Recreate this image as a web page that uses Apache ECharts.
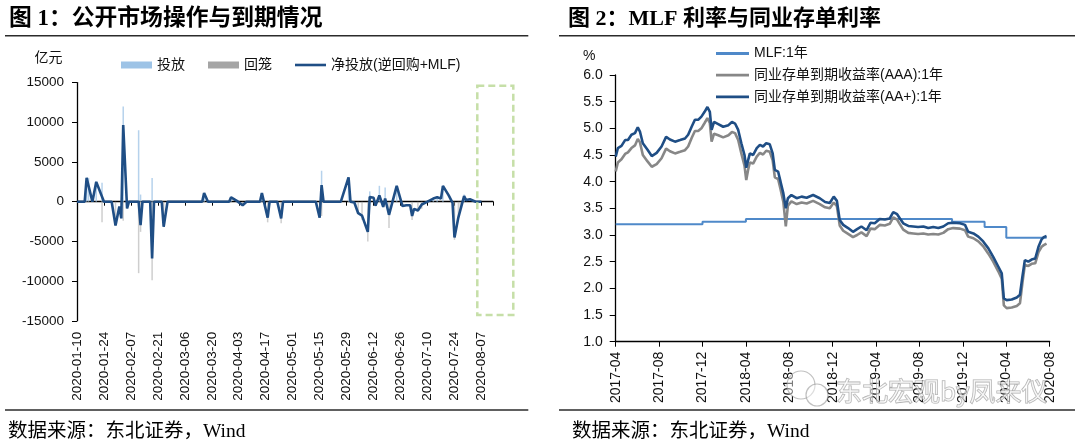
<!DOCTYPE html>
<html>
<head>
<meta charset="utf-8">
<script src="https://cdn.jsdelivr.net/npm/echarts@6/dist/echarts.min.js"></script>
<style>html,body{margin:0;padding:0;background:#fff}#c{width:1080px;height:441px}</style>
</head>
<body>
<div id="c"></div>
<script>
// ---------------- Figure 1 data (亿元) ----------------
const leftTickLabels = ['2020-01-10','2020-01-24','2020-02-07','2020-02-21','2020-03-06','2020-03-20','2020-04-03','2020-04-17','2020-05-01','2020-05-15','2020-05-29','2020-06-12','2020-06-26','2020-07-10','2020-07-24','2020-08-07'];
const leftYTicks = [-15000, 15000, 5000];

const netDates = ['2020-01-10','2020-01-14','2020-01-15','2020-01-16','2020-01-18','2020-01-20','2020-01-24','2020-01-28','2020-01-30','2020-02-01','2020-02-02','2020-02-03','2020-02-05','2020-02-06','2020-02-11','2020-02-12','2020-02-13','2020-02-17','2020-02-18','2020-02-19','2020-02-23','2020-02-24','2020-02-26','2020-03-15','2020-03-16','2020-03-18','2020-03-29','2020-03-30','2020-04-02','2020-04-05','2020-04-07','2020-04-14','2020-04-15','2020-04-18','2020-04-19','2020-04-23','2020-04-25','2020-04-26','2020-05-13','2020-05-15','2020-05-16','2020-05-17','2020-05-26','2020-05-30','2020-05-31','2020-06-02','2020-06-04','2020-06-06','2020-06-09','2020-06-10','2020-06-12','2020-06-13','2020-06-15','2020-06-17','2020-06-18','2020-06-20','2020-06-24','2020-06-25','2020-06-27','2020-06-29','2020-07-01','2020-07-02','2020-07-03','2020-07-05','2020-07-07','2020-07-10','2020-07-13','2020-07-15','2020-07-17','2020-07-18','2020-07-21','2020-07-23','2020-07-24','2020-07-26','2020-07-27','2020-07-29','2020-07-30','2020-08-01','2020-08-04','2020-08-05','2020-08-07'];
const netValues = [0,0,3000,3000,0,2500,0,0,-3000,-600,-2100,9650,-850,0,0,-2950,0,0,-7150,0,0,-3150,0,0,1100,0,0,550,100,-450,0,0,1100,-2000,0,0,-2100,0,0,-2000,2100,0,0,3070,0,-100,-1450,-1750,-3800,600,500,-500,800,-650,400,-1650,2000,1800,-550,-450,-450,-1800,-900,-1100,-350,0,400,550,400,2000,800,-150,-4500,-2000,-1100,700,200,300,0,-150,0];

const injDates = ['2020-01-15','2020-01-16','2020-01-20','2020-01-23','2020-02-03','2020-02-11','2020-02-12','2020-02-18','2020-03-16','2020-03-30','2020-04-15','2020-05-16','2020-05-30','2020-06-10','2020-06-15','2020-06-18','2020-06-24','2020-07-13','2020-07-15','2020-07-18','2020-07-29'];
const injValues = [3000,3000,2500,2400,12000,9000,900,3000,1100,600,1100,3900,3100,1300,2000,1800,2000,500,600,2000,900];

const matDates = ['2020-01-23','2020-01-30','2020-02-02','2020-02-03','2020-02-05','2020-02-11','2020-02-12','2020-02-18','2020-02-24','2020-04-05','2020-04-18','2020-04-25','2020-05-15','2020-05-16','2020-06-04','2020-06-06','2020-06-09','2020-06-13','2020-06-17','2020-06-20','2020-06-27','2020-07-02','2020-07-05','2020-07-07','2020-07-24','2020-07-26','2020-07-27'];
const matValues = [-2600,-3000,-2100,-2400,-900,-9000,-3800,-9900,-3200,-450,-2600,-2700,-2000,-1800,-1500,-2300,-5000,-600,-700,-3300,-600,-2300,-1200,-900,-4800,-2000,-1100];

// ---------------- Figure 2 data (%) ----------------
const rightTickLabels = ['2017-04','2017-08','2017-12','2018-04','2018-08','2018-12','2019-04','2019-08','2019-12','2020-04','2020-08'];

const rateDates = ['2017-04-01','2017-04-07','2017-04-17','2017-04-27','2017-05-05','2017-05-15','2017-05-25','2017-06-02','2017-06-08','2017-06-16','2017-06-29','2017-07-11','2017-07-25','2017-08-08','2017-08-21','2017-09-01','2017-09-15','2017-09-29','2017-10-13','2017-10-22','2017-11-01','2017-11-10','2017-11-19','2017-11-28','2017-12-07','2017-12-15','2017-12-22','2017-12-27','2018-01-03','2018-01-15','2018-01-29','2018-02-12','2018-02-21','2018-03-01','2018-03-10','2018-03-19','2018-03-28','2018-04-02','2018-04-07','2018-04-12','2018-04-21','2018-05-01','2018-05-10','2018-05-19','2018-05-28','2018-06-07','2018-06-15','2018-06-21','2018-06-30','2018-07-07','2018-07-15','2018-07-22','2018-07-28','2018-08-07','2018-08-22','2018-09-05','2018-09-19','2018-10-07','2018-10-26','2018-11-10','2018-11-23','2018-12-04','2018-12-13','2018-12-21','2018-12-31','2019-01-14','2019-01-28','2019-02-08','2019-02-19','2019-03-05','2019-03-16','2019-03-28','2019-04-11','2019-04-25','2019-05-09','2019-05-19','2019-05-30','2019-06-07','2019-06-16','2019-06-30','2019-07-14','2019-07-28','2019-08-12','2019-08-26','2019-09-09','2019-09-23','2019-10-07','2019-10-21','2019-11-04','2019-11-23','2019-12-07','2019-12-16','2019-12-31','2020-01-14','2020-01-28','2020-02-11','2020-02-24','2020-03-09','2020-03-19','2020-03-25','2020-04-02','2020-04-16','2020-04-30','2020-05-09','2020-05-16','2020-05-23','2020-06-02','2020-06-11','2020-06-21','2020-06-30','2020-07-09','2020-07-15','2020-07-23'];
const aaPlus = [4.47,4.63,4.67,4.78,4.78,4.88,4.91,5.02,4.94,4.72,4.60,4.48,4.54,4.66,4.84,4.79,4.75,4.78,4.81,4.88,5.03,5.16,5.16,5.22,5.31,5.40,5.31,4.97,5.12,5.08,5.03,5.06,5.12,5.09,4.97,4.72,4.50,4.26,4.40,4.53,4.50,4.63,4.69,4.66,4.72,4.70,4.53,4.22,4.19,4.00,3.78,3.50,3.69,3.75,3.69,3.72,3.70,3.75,3.69,3.62,3.60,3.72,3.64,3.28,3.19,3.13,3.06,3.11,3.16,3.09,3.23,3.22,3.30,3.29,3.31,3.43,3.39,3.31,3.22,3.17,3.16,3.15,3.16,3.13,3.15,3.13,3.16,3.22,3.23,3.22,3.19,3.06,3.03,2.97,2.88,2.75,2.59,2.41,2.28,1.81,1.78,1.79,1.83,1.88,2.22,2.53,2.50,2.54,2.56,2.78,2.92,2.96,2.98];
const aaa = [4.19,4.36,4.42,4.52,4.55,4.63,4.68,4.80,4.74,4.50,4.38,4.28,4.33,4.44,4.62,4.57,4.53,4.56,4.59,4.66,4.82,4.95,4.95,5.00,5.10,5.19,5.10,4.75,4.90,4.87,4.83,4.87,4.93,4.91,4.78,4.53,4.30,4.03,4.22,4.36,4.34,4.47,4.54,4.51,4.58,4.56,4.40,4.08,4.05,3.86,3.62,3.16,3.55,3.63,3.58,3.61,3.59,3.64,3.58,3.52,3.50,3.61,3.54,3.18,3.08,3.02,2.96,3.00,3.05,2.98,3.12,3.11,3.19,3.18,3.21,3.33,3.29,3.20,3.10,3.04,3.03,3.02,3.03,3.01,3.02,3.01,3.04,3.11,3.13,3.12,3.09,2.97,2.94,2.88,2.79,2.65,2.50,2.32,2.18,1.68,1.63,1.64,1.67,1.72,2.10,2.44,2.42,2.46,2.47,2.68,2.78,2.81,2.84];

const mlfDates = ['2017-04-01','2017-12-01','2018-04-01','2019-11-01','2020-02-01','2020-04-01','2020-07-23'];
const mlfValues = [3.20,3.25,3.30,3.25,3.15,2.95,2.95];

// ---------------- helpers ----------------
function parseD(s){ return s.split('-').map(Number); }
function dayOf(s){ const p = parseD(s); return Math.round((Date.UTC(p[0],p[1]-1,p[2]) - Date.UTC(2020,0,10)) / 864e5); }
function monthOf(s){ const p = parseD(s); const dim = new Date(Date.UTC(p[0], p[1], 0)).getUTCDate(); return (p[0]-2017)*12 + (p[1]-4) + (p[2]-1)/dim; }
const zipL = (ds, vs) => ds.map((d,i) => [dayOf(d), vs[i]]);
const zipR = (ds, vs) => ds.map((d,i) => [monthOf(d), vs[i]]);

const LAT = "'Liberation Sans','Noto Sans CJK SC',sans-serif";
const SERIF = "'Liberation Serif','Noto Sans CJK SC',serif";
const NAVY = '#1F4E85';
const TXT = '#111';

const chart = echarts.init(document.getElementById('c'), null, {renderer:'canvas'});
const sepStyle = {stroke:'#2b2b2b', lineWidth:1.5};
const legText = {fontSize:14, color:TXT, fontFamily:LAT};

chart.setOption({
  animation: false,
  backgroundColor: '#fff',
  grid: [
    {left:77, top:82.6, width:416, height:238.2},
    {left:615.7, top:75, width:434, height:266.7}
  ],
  legend: [
    { left:121, top:58, padding:0, orient:'horizontal', itemWidth:31, itemHeight:7, itemGap:23, selectedMode:false,
      icon:'rect', textStyle:legText,
      data:[
        {name:'投放', itemStyle:{color:'#9DC3E6', opacity:1}},
        {name:'回笼', itemStyle:{color:'#A5A5A5', opacity:1}}
      ] },
    { left:295, top:58, padding:0, orient:'horizontal', itemWidth:31, itemHeight:2.6, selectedMode:false,
      icon:'rect', textStyle:legText, data:['净投放(逆回购+MLF)'] },
    { left:716, top:46.5, padding:0, orient:'vertical', itemWidth:33, itemHeight:2.8, itemGap:7.7, selectedMode:false,
      icon:'rect', textStyle:legText,
      data:['MLF:1年','同业存单到期收益率(AAA):1年','同业存单到期收益率(AA+):1年'] }
  ],
  xAxis: [
    { gridIndex:0, type:'value', min:0, max:216, interval:14,
      axisLine:{show:true, onZero:true, lineStyle:{color:'#000', width:1.3}},
      axisTick:{show:true, length:4, lineStyle:{color:'#000'}},
      axisLabel:{show:false}, splitLine:{show:false} },
    { gridIndex:0, type:'value', min:0, max:216, interval:14, position:'bottom',
      axisLine:{show:false, onZero:false}, axisTick:{show:false}, splitLine:{show:false},
      axisLabel:{show:true, rotate:90, margin:11, fontSize:13.5, color:TXT, fontFamily:LAT, showMaxLabel:false,
        formatter: v => leftTickLabels[Math.round(v/14)] || ''} },
    { gridIndex:1, type:'value', min:0, max:40, interval:4,
      axisLine:{show:true, onZero:false, lineStyle:{color:'#000', width:1.3}},
      axisTick:{show:true, length:5, lineStyle:{color:'#000'}}, splitLine:{show:false},
      axisLabel:{rotate:90, margin:10, fontSize:14, color:TXT, fontFamily:LAT,
        formatter: v => rightTickLabels[Math.round(v/4)] || ''} }
  ],
  yAxis: [
    { gridIndex:0, type:'value', min:leftYTicks[0], max:leftYTicks[1], interval:leftYTicks[2],
      axisLine:{show:true, lineStyle:{color:'#000', width:1.3}},
      axisTick:{show:true, length:5, lineStyle:{color:'#000'}}, splitLine:{show:false},
      axisLabel:{fontSize:13.5, color:TXT, fontFamily:LAT, margin:13, formatter: v => String(v)} },
    { gridIndex:1, type:'value', min:1, max:6, interval:0.5,
      axisLine:{show:true, lineStyle:{color:'#000', width:1.3}},
      axisTick:{show:true, length:6, lineStyle:{color:'#000'}}, splitLine:{show:false},
      axisLabel:{fontSize:14, color:TXT, fontFamily:LAT, margin:13, formatter: v => v.toFixed(1)} }
  ],
  series: [
    { name:'投放', type:'bar', xAxisIndex:0, yAxisIndex:0, barWidth:1.5, barGap:'-100%',
      itemStyle:{color:'rgba(157,195,230,0.75)'}, data: zipL(injDates, injValues) },
    { name:'回笼', type:'bar', xAxisIndex:0, yAxisIndex:0, barWidth:1.5, barGap:'-100%',
      itemStyle:{color:'rgba(165,165,165,0.55)'}, data: zipL(matDates, matValues) },
    { name:'净投放(逆回购+MLF)', type:'line', xAxisIndex:0, yAxisIndex:0, symbol:'none',
      lineStyle:{color:NAVY, width:2.6}, itemStyle:{color:NAVY}, data: zipL(netDates, netValues) },
    { name:'MLF:1年', type:'line', xAxisIndex:2, yAxisIndex:1, symbol:'none', step:'end',
      lineStyle:{color:'#4F89C9', width:2}, itemStyle:{color:'#4F89C9'}, data: zipR(mlfDates, mlfValues) },
    { name:'同业存单到期收益率(AAA):1年', type:'line', xAxisIndex:2, yAxisIndex:1, symbol:'none',
      lineStyle:{color:'#878787', width:2.6}, itemStyle:{color:'#878787'}, data: zipR(rateDates, aaa) },
    { name:'同业存单到期收益率(AA+):1年', type:'line', xAxisIndex:2, yAxisIndex:1, symbol:'none',
      lineStyle:{color:NAVY, width:2.6}, itemStyle:{color:NAVY}, data: zipR(rateDates, aaPlus) }
  ],
  graphic: [
    {type:'text', x:9, y:19, style:{text:'图 1：公开市场操作与到期情况', fontSize:22.8, fontWeight:'bold', fontFamily:SERIF, fill:'#000', verticalAlign:'middle'}},
    {type:'text', x:568, y:19, style:{text:'图 2：MLF 利率与同业存单利率', fontSize:22, fontWeight:'bold', fontFamily:SERIF, fill:'#000', verticalAlign:'middle'}},
    {type:'line', shape:{x1:5, y1:35.7, x2:528.3, y2:35.7}, style:sepStyle},
    {type:'line', shape:{x1:559, y1:35.7, x2:1075, y2:35.7}, style:sepStyle},
    {type:'line', shape:{x1:5, y1:410, x2:528.3, y2:410}, style:sepStyle},
    {type:'line', shape:{x1:559, y1:410, x2:1075, y2:410}, style:sepStyle},
    {type:'text', x:34.4, y:58.5, style:{text:'亿元', fontSize:14, fontFamily:LAT, fill:TXT, verticalAlign:'middle'}},
    {type:'text', x:583, y:56, style:{text:'%', fontSize:14, fontFamily:LAT, fill:TXT, verticalAlign:'middle'}},
    {type:'rect', z:100, shape:{x:477.3, y:85.7, width:36, height:229.3},
      style:{fill:null, stroke:'#C6DFA8', lineWidth:2.5, lineDash:[7,4]}},
    {type:'text', x:8, y:431.5, style:{text:'数据来源：东北证券，Wind', fontSize:19.5, fontFamily:SERIF, fill:'#000', verticalAlign:'middle'}},
    {type:'text', x:572, y:431.5, style:{text:'数据来源：东北证券，Wind', fontSize:19.5, fontFamily:SERIF, fill:'#000', verticalAlign:'middle'}},
    {type:'circle', z:100, shape:{cx:801, cy:385, r:14}, style:{fill:'rgba(255,255,255,0.45)', stroke:'rgba(150,150,150,0.6)', lineWidth:1.2}},
    {type:'circle', z:100, shape:{cx:817, cy:395, r:11}, style:{fill:'rgba(255,255,255,0.45)', stroke:'rgba(150,150,150,0.6)', lineWidth:1.2}},
    {type:'text', z:100, x:836, y:391, style:{text:'东北宏观by凤来仪', fontSize:26, fontFamily:"'Noto Sans CJK SC',sans-serif", fill:'rgba(255,255,255,0.55)', stroke:'rgba(140,140,140,0.7)', lineWidth:1.1, verticalAlign:'middle'}}
  ]
});
</script>
</body>
</html>
